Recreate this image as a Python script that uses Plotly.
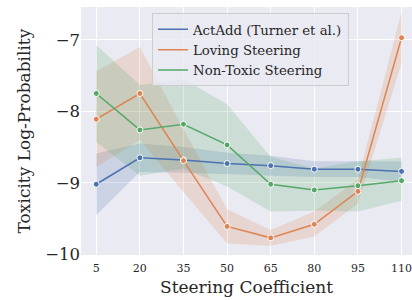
import plotly.graph_objects as go

coef = [5, 20, 35, 50, 65, 80, 95, 110]

actadd = [-9.02, -8.65, -8.68, -8.73, -8.76, -8.81, -8.81, -8.84]
actadd_hi = [-8.59, -8.45, -8.50, -8.58, -8.62, -8.70, -8.70, -8.70]
actadd_lo = [-9.45, -8.85, -8.86, -8.88, -8.90, -8.92, -8.92, -8.98]

loving = [-8.11, -7.75, -8.69, -9.61, -9.77, -9.58, -9.12, -6.97]
loving_hi = [-7.44, -7.10, -8.25, -9.37, -9.66, -9.40, -8.95, -6.61]
loving_lo = [-8.78, -8.40, -9.13, -9.85, -9.88, -9.75, -9.29, -7.33]

nontox = [-7.75, -8.26, -8.18, -8.47, -9.02, -9.10, -9.04, -8.97]
nontox_hi = [-7.07, -7.63, -7.55, -7.90, -8.64, -8.80, -8.70, -8.65]
nontox_lo = [-8.43, -8.90, -8.80, -9.05, -9.40, -9.39, -9.40, -9.25]

names = ["ActAdd (Turner et al.)", "Loving Steering", "Non-Toxic Steering"]
colors = ["#4C72B0", "#DD8452", "#55A868"]
fills = ["rgba(76,114,176,0.2)", "rgba(221,132,82,0.2)", "rgba(85,168,104,0.2)"]

fig = go.Figure()
series = [(actadd, actadd_hi, actadd_lo), (loving, loving_hi, loving_lo), (nontox, nontox_hi, nontox_lo)]
for (m, hi, lo), name, c, f in zip(series, names, colors, fills):
    fig.add_trace(go.Scatter(x=coef, y=hi, mode="lines", line=dict(width=0), showlegend=False, hoverinfo="skip"))
    fig.add_trace(go.Scatter(x=coef, y=lo, mode="lines", line=dict(width=0), fill="tonexty", fillcolor=f, showlegend=False, hoverinfo="skip"))
for (m, hi, lo), name, c, f in zip(series, names, colors, fills):
    fig.add_trace(go.Scatter(x=coef, y=m, mode="lines+markers", name=name, showlegend=False,
                             line=dict(color=c, width=1.5),
                             marker=dict(size=6, color=c, line=dict(color="white", width=1))))
for name, c in zip(names, colors):
    fig.add_trace(go.Scatter(x=[None], y=[None], mode="lines", name=name,
                             line=dict(color=c, width=1.5)))

fig.update_layout(
    width=412, height=300,
    margin=dict(l=81, r=0, t=7, b=45, autoexpand=False),
    paper_bgcolor="white", plot_bgcolor="#EAEAF2",
    font=dict(family="DejaVu Serif", color="#262626"),
    legend=dict(x=0.2145, y=0.975, xanchor="left", yanchor="top", traceorder="normal",
                bgcolor="rgba(234,234,242,0.8)", bordercolor="#CCCCCC", borderwidth=1,
                font=dict(size=13.3, family="DejaVu Serif"), itemwidth=30,
                tracegroupgap=0),
    annotations=[
        dict(text="Steering Coefficient", xref="paper", yref="paper", x=0.5, y=-0.128,
             yanchor="middle", xanchor="center", showarrow=False, font=dict(size=17)),
        dict(text="Toxicity Log-Probability", xref="paper", yref="paper", x=-0.171, y=0.5,
             textangle=-90, xanchor="center", yanchor="middle", showarrow=False, font=dict(size=17)),
    ],
)
fig.update_xaxes(range=[-0.25, 113.6], tickvals=coef, ticktext=[str(v) for v in coef],
                 showgrid=True, gridcolor="white", gridwidth=1, zeroline=False, automargin=False,
                 tickfont=dict(size=11), ticks="", ticklabeloverflow="allow", ticklabelstandoff=5)
fig.update_yaxes(range=[-10.01, -6.54], tickvals=[-10, -9, -8, -7], ticktext=["−10", "−9", "−8", "−7"],
                 showgrid=True, gridcolor="white", gridwidth=1, zeroline=False, automargin=False,
                 tickfont=dict(size=16.5), ticks="")

fig.write_html("out.html", config={"displayModeBar": False},
               post_script="document.body.style.margin='0';document.body.style.overflow='hidden';")
